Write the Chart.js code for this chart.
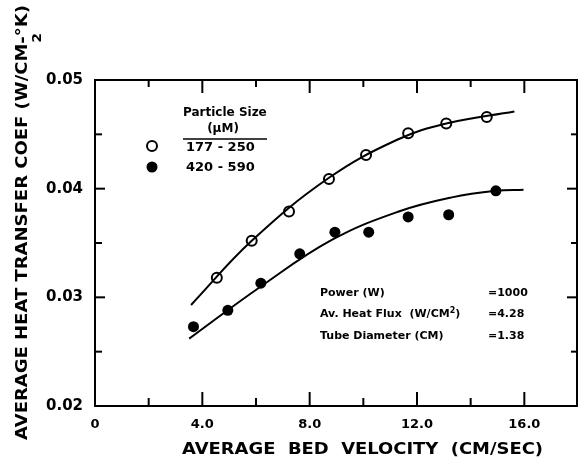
<!DOCTYPE html>
<html>
<head>
<meta charset="utf-8">
<script src="https://cdn.jsdelivr.net/npm/chart.js@4/dist/chart.umd.min.js"></script>
<style>
body { margin: 0; background: #fff; }
</style>
</head>
<body>
<canvas id="chart" width="578" height="464"></canvas>
<script>
// measured points, 177-250 micron particles (open circles)
var smallX = [4.54, 5.84, 7.23, 8.72, 10.10, 11.67, 13.09, 14.60];
var smallY = [0.0318, 0.0352, 0.0379, 0.0409, 0.0431, 0.0451, 0.0460, 0.0466];
// 420-590 micron particles (filled circles)
var largeX = [3.67, 4.95, 6.18, 7.63, 8.94, 10.20, 11.67, 13.18, 14.94];
var largeY = [0.0273, 0.0288, 0.0313, 0.0340, 0.0360, 0.0360, 0.0374, 0.0376, 0.0398];
// hand drawn fit lines
var smallFitX = [3.58, 5.84, 8.72, 11.26, 13.09, 15.63];
var smallFitY = [0.0293, 0.0352, 0.0410, 0.0445, 0.0460, 0.0471];
var largeFitX = [3.51, 6.18, 8.84, 11.32, 13.30, 14.94, 15.97];
var largeFitY = [0.0262, 0.0310, 0.0353, 0.0379, 0.0392, 0.0398, 0.0399];

var xTicks = [0, 4, 8, 12, 16];
var xMinorTicks = [2, 6, 10, 14];
var yTicks = [0.02, 0.03, 0.04, 0.05];
var yMinorTicks = [0.025, 0.035, 0.045];

var legendLabels = ['177 - 250', '420 - 590'];
var notes = [
    ['Power (W)', '=1000'],
    ['Av. Heat Flux  (W/CM', '=4.28'],
    ['Tube Diameter (CM)', '=1.38']
];

function pairs(xs, ys) {
    return xs.map(function(x, i) { return { x: x, y: ys[i] }; });
}

var FONT = '"DejaVu Sans", sans-serif';

var framePlugin = {
    id: 'framePlugin',
    afterDraw: function(chart) {
        var ctx = chart.ctx, a = chart.chartArea;
        var xs = chart.scales.x, ys = chart.scales.y;
        ctx.save();
        ctx.strokeStyle = '#000';
        ctx.fillStyle = '#000';
        ctx.lineWidth = 2;
        ctx.strokeRect(a.left, a.top, a.right - a.left - 1, a.bottom - a.top);

        function line(x1, y1, x2, y2) {
            ctx.beginPath();
            ctx.moveTo(x1, y1);
            ctx.lineTo(x2, y2);
            ctx.stroke();
        }
        // inward ticks on all four sides
        xTicks.forEach(function(v) {
            var px = xs.getPixelForValue(v);
            line(px, a.bottom, px, a.bottom - 14);
            line(px, a.top, px, a.top + 13);
        });
        xMinorTicks.forEach(function(v) {
            var px = xs.getPixelForValue(v);
            line(px, a.bottom, px, a.bottom - 8);
            line(px, a.top, px, a.top + 7);
        });
        yTicks.forEach(function(v) {
            var py = ys.getPixelForValue(v);
            line(a.left, py, a.left + 10, py);
            line(a.right - 1, py, a.right - 11, py);
        });
        yMinorTicks.forEach(function(v) {
            var py = ys.getPixelForValue(v);
            line(a.left, py, a.left + 7, py);
            line(a.right - 1, py, a.right - 7, py);
        });

        // x title
        ctx.textBaseline = 'middle';
        ctx.textAlign = 'left';
        ctx.font = 'bold 16px ' + FONT;
        var xt = 'AVERAGE  BED  VELOCITY  (CM/SEC)';
        var w = ctx.measureText(xt).width;
        ctx.save();
        ctx.translate(182, 450);
        ctx.scale(361 / w, 1);
        ctx.fillText(xt, 0, 0);
        ctx.restore();

        // y title, rotated
        var s1 = 'AVERAGE HEAT TRANSFER COEF (W/CM', s2 = '-°K)';
        var w1 = ctx.measureText(s1).width;
        var wy = ctx.measureText(s1 + s2).width;
        ctx.save();
        ctx.translate(22.5, 440);
        ctx.rotate(-Math.PI / 2);
        ctx.scale(435 / wy, 1);
        ctx.fillText(s1 + s2, 0, 0);
        ctx.font = 'bold 12px ' + FONT;
        ctx.fillText('2', w1 + 1, 15);
        ctx.restore();

        // legend
        ctx.font = 'bold 12px ' + FONT;
        ctx.fillText('Particle Size', 183, 113);
        ctx.textAlign = 'center';
        ctx.fillText('(\u03bcM)', 223, 129);
        ctx.textAlign = 'left';
        ctx.lineWidth = 1.5;
        line(183, 139, 267, 139);
        ctx.font = 'bold 13px ' + FONT;
        ctx.fillText(legendLabels[0], 186, 148);
        ctx.fillText(legendLabels[1], 186, 168);
        ctx.lineWidth = 2;
        ctx.beginPath();
        ctx.arc(152, 146, 5, 0, Math.PI * 2);
        ctx.fillStyle = '#fff';
        ctx.fill();
        ctx.stroke();
        ctx.fillStyle = '#000';
        ctx.beginPath();
        ctx.arc(152, 167, 5.5, 0, Math.PI * 2);
        ctx.fill();

        // run conditions
        ctx.font = 'bold 11px ' + FONT;
        var rows = [293, 314.5, 336];
        notes.forEach(function(n, i) {
            ctx.fillText(n[0], 320, rows[i]);
            ctx.fillText(n[1], 488, rows[i]);
        });
        var fw = ctx.measureText(notes[1][0]).width;
        ctx.font = 'bold 8px ' + FONT;
        ctx.fillText('2', 320 + fw, rows[1] - 4);
        var sw = ctx.measureText('2').width;
        ctx.font = 'bold 11px ' + FONT;
        ctx.fillText(')', 320 + fw + sw, rows[1]);
        ctx.restore();
    }
};

new Chart(document.getElementById('chart'), {
    type: 'scatter',
    data: {
        datasets: [
            {
                data: pairs(smallFitX, smallFitY),
                showLine: true,
                pointRadius: 0,
                borderColor: '#000',
                borderWidth: 2,
                tension: 0.4
            },
            {
                data: pairs(largeFitX, largeFitY),
                showLine: true,
                pointRadius: 0,
                borderColor: '#000',
                borderWidth: 2,
                tension: 0.4
            },
            {
                data: pairs(smallX, smallY),
                pointRadius: 5,
                pointBackgroundColor: '#fff',
                pointBorderColor: '#000',
                pointBorderWidth: 2
            },
            {
                data: pairs(largeX, largeY),
                pointRadius: 5.5,
                pointBackgroundColor: '#000',
                pointBorderColor: '#000',
                pointBorderWidth: 0
            }
        ]
    },
    options: {
        responsive: false,
        animation: false,
        devicePixelRatio: 1,
        layout: { autoPadding: false, padding: { top: 80, right: 0, bottom: 0, left: 0 } },
        plugins: { legend: { display: false }, tooltip: { enabled: false } },
        scales: {
            x: {
                type: 'linear',
                min: 0,
                max: 18,
                afterFit: function(s) {
                    s.height = 58;
                    s.paddingLeft = 0;
                    s.paddingRight = 0;
                },
                afterBuildTicks: function(s) {
                    s.ticks = xTicks.map(function(v) { return { value: v }; });
                },
                grid: { display: false, drawTicks: false },
                border: { display: false },
                ticks: {
                    padding: 11,
                    color: '#000',
                    maxRotation: 0,
                    font: { family: FONT, size: 13, weight: 'bold' },
                    callback: function(v) { return v === 0 ? '0' : v.toFixed(1); }
                }
            },
            y: {
                type: 'linear',
                min: 0.02,
                max: 0.05,
                afterFit: function(s) {
                    s.width = 95;
                    s.paddingTop = 0;
                    s.paddingBottom = 0;
                },
                afterBuildTicks: function(s) {
                    s.ticks = yTicks.map(function(v) { return { value: v }; });
                },
                grid: { display: false, drawTicks: false },
                border: { display: false },
                ticks: {
                    padding: 12,
                    color: '#000',
                    font: { family: FONT, size: 15, weight: 'bold' },
                    callback: function(v) { return v.toFixed(2); }
                }
            }
        }
    },
    plugins: [framePlugin]
});
</script>
</body>
</html>
